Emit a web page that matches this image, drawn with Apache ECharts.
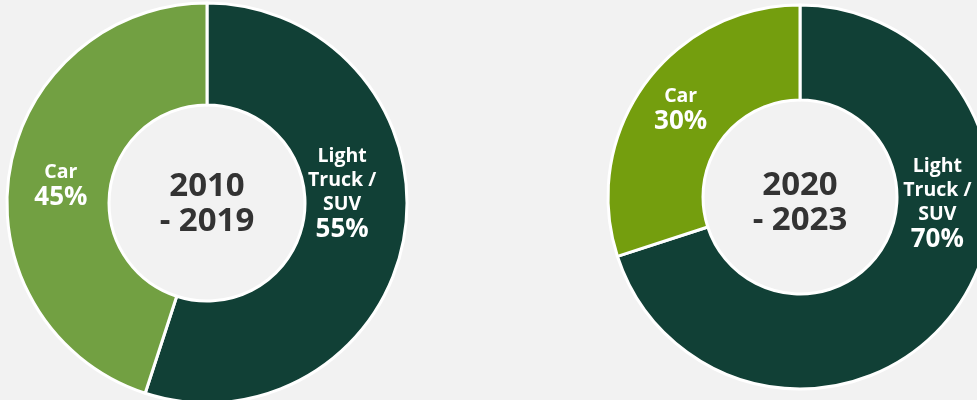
<!DOCTYPE html>
<html><head><meta charset="utf-8">
<script src="https://cdn.jsdelivr.net/npm/echarts@6/dist/echarts.min.js"></script>
<style>html,body{margin:0;padding:0;background:#f2f2f2;}#c{width:977px;height:400px;}</style>
</head><body><div id="c"></div>
<script>
const categories = ['Light Truck / SUV', 'Car'];
const categoryLabels = ['Light\nTruck /\nSUV', 'Car'];
const period1 = '2010\n- 2019';
const period2 = '2020\n- 2023';
const values1 = [55, 45];
const values2 = [70, 30];

const FONT = "'Open Sans', 'Noto Sans', sans-serif";
const darkGreen = '#114036';
const car1 = '#72a042';
const car2 = '#749e0e';

function labelFmt(p) {
  return '{n|' + categoryLabels[p.dataIndex] + '}\n{p|' + p.value + '%}';
}
const rich = {
  n: { color: '#fff', fontSize: 19.5, fontWeight: 'bold', fontFamily: FONT, lineHeight: 24, align: 'center' },
  p: { color: '#fff', fontSize: 26, fontWeight: 'bold', fontFamily: FONT, lineHeight: 26, align: 'center' }
};

function makeData(vals, carColor, offsets) {
  return vals.map((v, i) => ({
    name: categories[i],
    value: v,
    itemStyle: { color: i === 0 ? darkGreen : carColor },
    label: { offset: offsets[i] }
  }));
}

const chart = echarts.init(document.getElementById('c'), null, { renderer: 'canvas' });
chart.setOption({
  backgroundColor: '#f2f2f2',
  animation: false,
  series: [
    {
      type: 'pie', center: [207, 203], radius: [98, 200], startAngle: 90, clockwise: true,
      itemStyle: { borderColor: '#fff', borderWidth: 3 },
      label: { show: true, position: 'inside', formatter: labelFmt, rich: rich, align: 'center' },
      labelLine: { show: false },
      data: makeData(values1, car1, [[-15, -33], [4, 6]])
    },
    {
      type: 'pie', center: [800, 197], radius: [97, 192], startAngle: 90, clockwise: true,
      itemStyle: { borderColor: '#fff', borderWidth: 3 },
      label: { show: true, position: 'inside', formatter: labelFmt, rich: rich, align: 'center' },
      labelLine: { show: false },
      data: makeData(values2, car2, [[18, -80], [0, -1]])
    }
  ],
  graphic: [
    { type: 'text', x: 207, y: 204, style: { text: period1, textAlign: 'center', textVerticalAlign: 'middle', fill: '#333', font: 'bold 33px ' + FONT, lineHeight: 35 } },
    { type: 'text', x: 800, y: 203, style: { text: period2, textAlign: 'center', textVerticalAlign: 'middle', fill: '#333', font: 'bold 33px ' + FONT, lineHeight: 35 } }
  ]
});
</script></body></html>
